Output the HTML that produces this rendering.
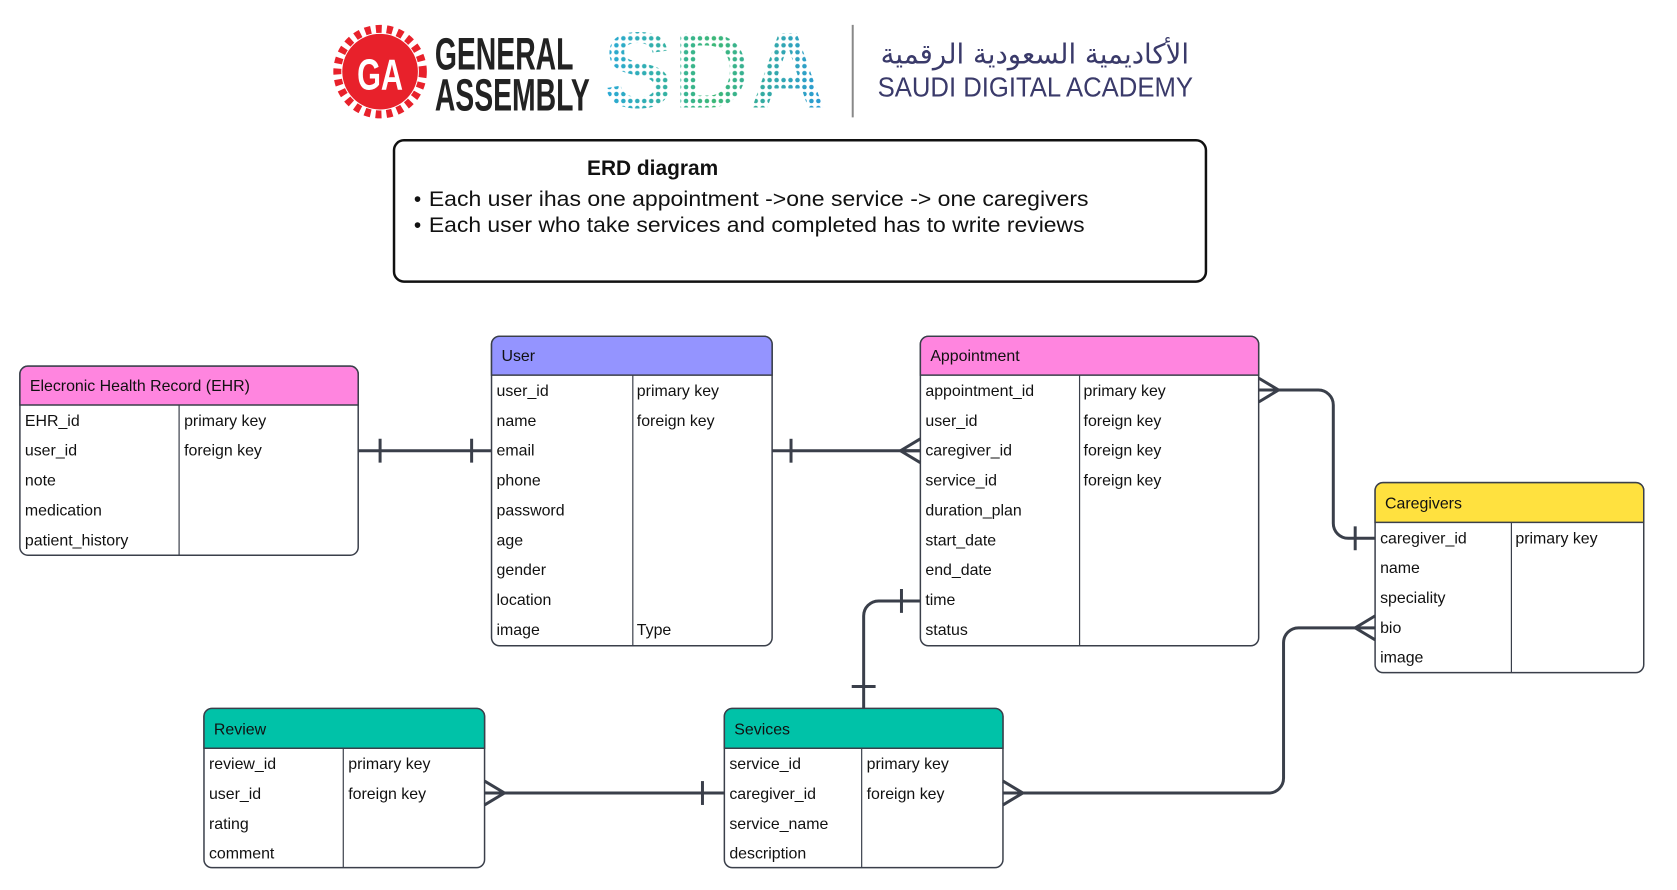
<!DOCTYPE html>
<html><head><meta charset="utf-8"><style>
html,body{margin:0;padding:0;background:#fff;width:1677px;height:890px;overflow:hidden}
svg text{font-family:"Liberation Sans","DejaVu Sans",sans-serif}
</style></head><body>
<svg width="1677" height="890" viewBox="0 0 1677 890" xmlns="http://www.w3.org/2000/svg">
<defs>
<pattern id="dots" width="7" height="7" patternUnits="userSpaceOnUse"><circle cx="3.5" cy="3.5" r="2.3" fill="#fff"/></pattern>
<linearGradient id="sdag" x1="0" x2="1"><stop offset="0" stop-color="#2aa8d8"/><stop offset="0.5" stop-color="#3cb878"/><stop offset="1" stop-color="#2a9ad8"/></linearGradient>
<mask id="dm"><rect width="1677" height="890" fill="url(#dots)"/></mask>
</defs>
<g transform="scale(0.995)">
<!-- GA logo -->
<circle cx="382" cy="72" r="38" fill="#e8212b"/>
<circle cx="382" cy="72" r="43" fill="none" stroke="#e8212b" stroke-width="8" stroke-dasharray="6 5"/>
<text x="382" y="90" font-size="44" font-weight="bold" fill="#fff" text-anchor="middle" transform="translate(382 0) scale(0.7 1) translate(-382 0)">GA</text>
<g transform="translate(437 0) scale(0.62 1)">
<text x="0" y="70" font-size="46" font-weight="bold" fill="#222">GENERAL</text>
<text x="0" y="111" font-size="46" font-weight="bold" fill="#222">ASSEMBLY</text>
</g>
<g mask="url(#dm)"><text x="606" y="108" font-size="108" font-weight="bold" fill="url(#sdag)" textLength="224" lengthAdjust="spacingAndGlyphs">SDA</text></g>
<line x1="857" y1="25" x2="857" y2="118" stroke="#888" stroke-width="2"/>
<text x="1195" y="64" font-size="28" fill="#3a3a6a" text-anchor="end" style="font-family:'DejaVu Sans',sans-serif" textLength="310" lengthAdjust="spacingAndGlyphs">الأكاديمية السعودية الرقمية</text>
<text x="882" y="97" font-size="28" fill="#3a3a6a" textLength="317" lengthAdjust="spacingAndGlyphs">SAUDI DIGITAL ACADEMY</text>
<!-- note box -->
<rect x="396" y="141" width="816" height="142" rx="10" fill="#fff" stroke="#111" stroke-width="2.5"/>
<text x="590" y="176" font-size="21" font-weight="bold" fill="#111">ERD diagram</text>
<text x="416" y="207" font-size="21" fill="#111">•</text>
<text x="431" y="207" font-size="21" fill="#111" textLength="663" lengthAdjust="spacingAndGlyphs">Each user ihas one appointment -&gt;one service -&gt; one caregivers</text>
<text x="416" y="233" font-size="21" fill="#111">•</text>
<text x="431" y="233" font-size="21" fill="#111" textLength="659" lengthAdjust="spacingAndGlyphs">Each user who take services and completed has to write reviews</text>

<g font-size="16" fill="#111">
<!-- EHR -->
<rect x="20" y="368" width="340" height="190" rx="8" fill="#fff" stroke="#3a3f4a" stroke-width="1.5"/>
<path d="M20 407 V376 a8 8 0 0 1 8 -8 H352 a8 8 0 0 1 8 8 V407 Z" fill="#ff85df" stroke="#3a3f4a" stroke-width="1.5"/>
<line x1="180" y1="407" x2="180" y2="558" stroke="#3a3f4a" stroke-width="1.2"/>
<text x="30" y="393">Elecronic Health Record (EHR)</text>
<text x="25" y="428">EHR_id</text><text x="185" y="428">primary key</text>
<text x="25" y="458">user_id</text><text x="185" y="458">foreign key</text>
<text x="25" y="488">note</text>
<text x="25" y="518">medication</text>
<text x="25" y="548">patient_history</text>
<!-- User -->
<rect x="494" y="338" width="282" height="311" rx="8" fill="#fff" stroke="#3a3f4a" stroke-width="1.5"/>
<path d="M494 377 V346 a8 8 0 0 1 8 -8 H768 a8 8 0 0 1 8 8 V377 Z" fill="#9494ff" stroke="#3a3f4a" stroke-width="1.5"/>
<line x1="636" y1="377" x2="636" y2="649" stroke="#3a3f4a" stroke-width="1.2"/>
<text x="504" y="363">User</text>
<text x="499" y="398">user_id</text><text x="640" y="398">primary key</text>
<text x="499" y="428">name</text><text x="640" y="428">foreign key</text>
<text x="499" y="458">email</text>
<text x="499" y="488">phone</text>
<text x="499" y="518">password</text>
<text x="499" y="548">age</text>
<text x="499" y="578">gender</text>
<text x="499" y="608">location</text>
<text x="499" y="638">image</text><text x="640" y="638">Type</text>
<!-- Appointment -->
<rect x="925" y="338" width="340" height="311" rx="8" fill="#fff" stroke="#3a3f4a" stroke-width="1.5"/>
<path d="M925 377 V346 a8 8 0 0 1 8 -8 H1257 a8 8 0 0 1 8 8 V377 Z" fill="#ff85df" stroke="#3a3f4a" stroke-width="1.5"/>
<line x1="1085" y1="377" x2="1085" y2="649" stroke="#3a3f4a" stroke-width="1.2"/>
<text x="935" y="363">Appointment</text>
<text x="930" y="398">appointment_id</text><text x="1089" y="398">primary key</text>
<text x="930" y="428">user_id</text><text x="1089" y="428">foreign key</text>
<text x="930" y="458">caregiver_id</text><text x="1089" y="458">foreign key</text>
<text x="930" y="488">service_id</text><text x="1089" y="488">foreign key</text>
<text x="930" y="518">duration_plan</text>
<text x="930" y="548">start_date</text>
<text x="930" y="578">end_date</text>
<text x="930" y="608">time</text>
<text x="930" y="638">status</text>
<!-- Caregivers -->
<rect x="1382" y="485" width="270" height="191" rx="8" fill="#fff" stroke="#3a3f4a" stroke-width="1.5"/>
<path d="M1382 525 V493 a8 8 0 0 1 8 -8 H1644 a8 8 0 0 1 8 8 V525 Z" fill="#ffe13f" stroke="#3a3f4a" stroke-width="1.5"/>
<line x1="1519" y1="525" x2="1519" y2="676" stroke="#3a3f4a" stroke-width="1.2"/>
<text x="1392" y="511">Caregivers</text>
<text x="1387" y="546">caregiver_id</text><text x="1523" y="546">primary key</text>
<text x="1387" y="576">name</text>
<text x="1387" y="606">speciality</text>
<text x="1387" y="636">bio</text>
<text x="1387" y="666">image</text>
<!-- Review -->
<rect x="205" y="712" width="282" height="160" rx="8" fill="#fff" stroke="#3a3f4a" stroke-width="1.5"/>
<path d="M205 752 V720 a8 8 0 0 1 8 -8 H479 a8 8 0 0 1 8 8 V752 Z" fill="#00c2a8" stroke="#3a3f4a" stroke-width="1.5"/>
<line x1="345" y1="752" x2="345" y2="872" stroke="#3a3f4a" stroke-width="1.2"/>
<text x="215" y="738">Review</text>
<text x="210" y="773">review_id</text><text x="350" y="773">primary key</text>
<text x="210" y="803">user_id</text><text x="350" y="803">foreign key</text>
<text x="210" y="833">rating</text>
<text x="210" y="863">comment</text>
<!-- Services -->
<rect x="728" y="712" width="280" height="160" rx="8" fill="#fff" stroke="#3a3f4a" stroke-width="1.5"/>
<path d="M728 752 V720 a8 8 0 0 1 8 -8 H1000 a8 8 0 0 1 8 8 V752 Z" fill="#00c2a8" stroke="#3a3f4a" stroke-width="1.5"/>
<line x1="866" y1="752" x2="866" y2="872" stroke="#3a3f4a" stroke-width="1.2"/>
<text x="738" y="738">Sevices</text>
<text x="733" y="773">service_id</text><text x="871" y="773">primary key</text>
<text x="733" y="803">caregiver_id</text><text x="871" y="803">foreign key</text>
<text x="733" y="833">service_name</text>
<text x="733" y="863">description</text>
</g>

<!-- connectors -->
<g fill="none" stroke="#3a3f4a" stroke-width="3">
<path d="M360 453 H494"/><path d="M382 441 V465 M474 441 V465"/>
<path d="M776 453 H925"/><path d="M795 441 V465"/><path d="M925 441 L905 453 L925 465 M905 453 H925"/>
<path d="M1265 392 H1325 a15 15 0 0 1 15 15 V526 a15 15 0 0 0 15 15 H1382"/>
<path d="M1265 380 L1285 392 L1265 404"/><path d="M1362 529 V553"/>
<path d="M925 604 H883 a15 15 0 0 0 -15 15 V712"/><path d="M906 592 V616 M856 690 H880"/>
<path d="M487 797 H728"/><path d="M487 785 L507 797 L487 809"/><path d="M706 785 V809"/>
<path d="M1008 797 H1275 a15 15 0 0 0 15 -15 V646 a15 15 0 0 1 15 -15 H1382"/>
<path d="M1008 785 L1028 797 L1008 809"/><path d="M1382 619 L1362 631 L1382 643"/>
</g>
</g>
</svg>
</body></html>
